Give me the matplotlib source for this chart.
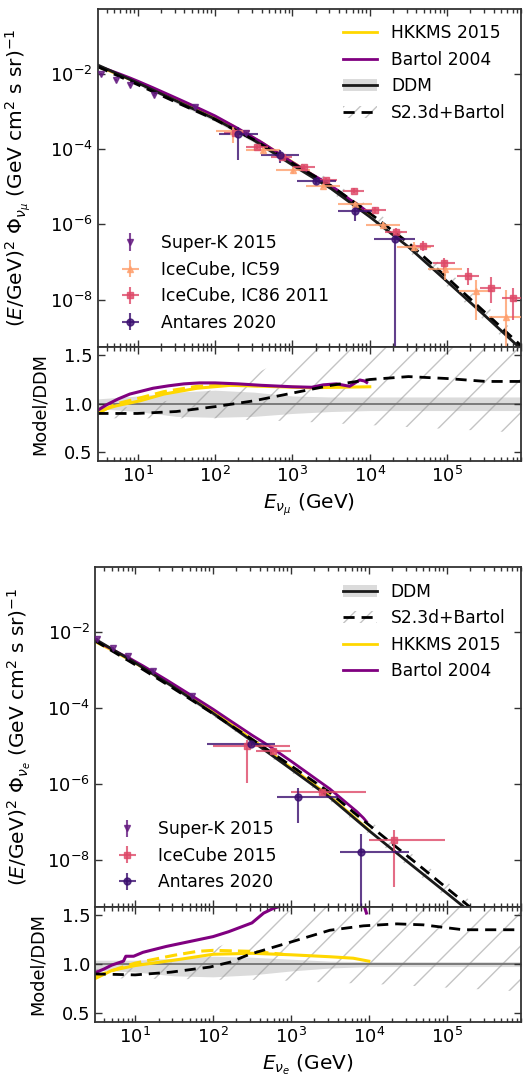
import numpy as np
import matplotlib
matplotlib.use('Agg')
import matplotlib.pyplot as plt
from matplotlib.patches import Patch
from matplotlib.lines import Line2D
from matplotlib import ticker

plt.rcParams['font.family'] = ['DejaVu Sans']
plt.rcParams['mathtext.fontset'] = 'dejavusans'
plt.rcParams['hatch.linewidth'] = 1.0

# ================= DATA : nu_mu (top) =================
# DDM reference flux, log10(E/GeV) and log10(E^2 Phi)
mu_logE = [0.48, 1.0, 1.5, 2.0, 2.5, 3.0, 3.5, 4.0, 4.5, 5.0, 5.5, 6.0]
mu_ddm_logF = [-1.76, -2.24, -2.72, -3.20, -3.76, -4.42, -5.05, -5.80, -6.60, -7.52, -8.45, -9.40]
mu_ddm_lo = [0.95, 0.92, 0.87, 0.86, 0.87, 0.90, 0.92, 0.93, 0.93, 0.93, 0.93, 0.93]
mu_ddm_hi = [1.05, 1.08, 1.12, 1.14, 1.12, 1.08, 1.07, 1.07, 1.07, 1.07, 1.07, 1.07]
mu_s23_lo = [0.85, 0.85, 0.85, 0.85, 0.83, 0.82, 0.80, 0.78, 0.76, 0.74, 0.72, 0.70]
mu_s23_hi = [0.95, 0.97, 1.05, 1.15, 1.30, 1.50, 1.70, 1.85, 1.95, 2.00, 2.00, 2.00]

mu_s23_logE = [0.48, 1.0, 1.5, 2.0, 2.5, 3.0, 3.5, 4.0, 4.5, 5.0, 5.5, 6.0]
mu_s23_ratio = [0.90, 0.90, 0.92, 0.97, 1.03, 1.11, 1.19, 1.25, 1.28, 1.26, 1.23, 1.23]

mu_hkkms_logE = [0.48, 0.6, 0.73, 1.03, 1.34, 1.77, 2.2, 2.63, 3.23, 3.6, 4.0]
mu_hkkms_ratio = [0.90, 0.95, 0.98, 1.03, 1.10, 1.16, 1.19, 1.18, 1.165, 1.17, 1.175]
mu_hkkms2_logE = [0.55, 0.73, 1.03, 1.34, 1.77, 2.2, 2.6]
mu_hkkms2_ratio = [0.93, 1.00, 1.06, 1.125, 1.18, 1.195, 1.185]

mu_bartol_logE = [0.48, 0.6, 0.75, 0.9, 1.0, 1.2, 1.4, 1.6, 1.8, 2.0, 2.3, 2.6, 3.0,
                  3.25, 3.4, 3.57, 3.74, 3.8, 3.87, 3.93, 3.96]
mu_bartol_ratio = [0.93, 0.99, 1.05, 1.10, 1.12, 1.16, 1.185, 1.205, 1.215, 1.215, 1.205,
                   1.19, 1.175, 1.17, 1.195, 1.205, 1.18, 1.21, 1.245, 1.235, 1.22]

# measurements (log10 E, log10 E^2Phi, errors in dex)
sk_mu_logE = [0.527, 0.72, 0.905, 1.21, 1.74, 2.40]
sk_mu_logF = [-2.00, -2.16, -2.29, -2.56, -2.89, -3.58]
sk_mu_yerr = [0.03, 0.03, 0.03, 0.03, 0.04, 0.06]

ic59_logE = [2.235, 2.62, 3.01, 3.40, 3.81, 4.17, 4.57, 4.97, 5.37, 5.76]
ic59_logF = [-3.53, -4.02, -4.55, -4.98, -5.46, -6.02, -6.59, -7.19, -7.77, -8.45]
ic59_xerr = [0.22] * 10
ic59_ylo = [0.30, 0.08, 0.10, 0.06, 0.06, 0.08, 0.13, 0.28, 0.77, 1.50]
ic59_yhi = [0.13, 0.08, 0.08, 0.06, 0.06, 0.08, 0.13, 0.25, 0.29, 0.71]

ic86_logE = [2.26, 2.54, 2.86, 3.15, 3.44, 3.79, 4.07, 4.34, 4.69, 4.96, 5.27, 5.56, 5.85]
ic86_logF = [-3.58, -3.94, -4.21, -4.48, -4.82, -5.10, -5.63, -6.19, -6.57, -7.04, -7.37, -7.70, -7.97]
ic86_xerr = [0.14] * 13
ic86_ylo = [0.05, 0.05, 0.05, 0.05, 0.06, 0.06, 0.08, 0.12, 0.15, 0.20, 0.25, 0.40, 0.57]
ic86_yhi = [0.05, 0.05, 0.05, 0.05, 0.06, 0.06, 0.08, 0.10, 0.12, 0.15, 0.20, 0.30, 0.27]

ant_mu_logE = [2.30, 2.84, 3.31, 3.81, 4.32]
ant_mu_logF = [-3.60, -4.15, -4.85, -5.65, -6.40]
ant_mu_xerr = [0.25, 0.25, 0.25, 0.22, 0.26]
ant_mu_ylo = [0.69, 0.22, 0.08, 0.25, 3.00]
ant_mu_yhi = [0.20, 0.13, 0.06, 0.15, 0.05]

# ================= DATA : nu_e (bottom) =================
e_logE = [0.48, 1.0, 1.5, 2.0, 2.5, 3.0, 3.5, 4.0, 4.5, 5.0, 5.5, 6.0]
e_ddm_logF = [-2.17, -2.80, -3.45, -4.13, -4.86, -5.60, -6.35, -7.22, -8.05, -8.87, -9.70, -10.55]
e_ddm_lo = [0.94, 0.92, 0.88, 0.87, 0.89, 0.93, 0.96, 0.975, 0.975, 0.975, 0.975, 0.975]
e_ddm_hi = [1.04, 1.04, 1.06, 1.08, 1.07, 1.05, 1.03, 1.025, 1.025, 1.025, 1.025, 1.025]
e_s23_lo = [0.86, 0.85, 0.85, 0.84, 0.84, 0.83, 0.81, 0.80, 0.78, 0.76, 0.74, 0.72]
e_s23_hi = [0.95, 0.96, 1.02, 1.15, 1.33, 1.55, 1.75, 1.90, 2.00, 2.00, 2.00, 2.00]

e_s23_logE = [0.48, 1.0, 1.46, 1.96, 2.22, 2.47, 3.0, 3.5, 3.93, 4.36, 4.7, 5.21, 6.0]
e_s23_ratio = [0.90, 0.89, 0.918, 0.97, 1.02, 1.10, 1.225, 1.345, 1.39, 1.41, 1.40, 1.35, 1.35]

e_hkkms_logE = [0.48, 0.7, 1.0, 1.5, 2.0, 2.5, 3.0, 3.5, 3.8, 4.0]
e_hkkms_ratio = [0.85, 0.935, 0.985, 1.04, 1.10, 1.11, 1.095, 1.075, 1.06, 1.03]
e_hkkms2_logE = [0.48, 0.8, 1.0, 1.5, 1.8, 2.0, 2.5, 2.9]
e_hkkms2_ratio = [0.87, 0.96, 1.01, 1.09, 1.13, 1.14, 1.13, 1.10]

e_bartol_logE = [0.48, 0.6, 0.7, 0.85, 0.88, 0.98, 1.1, 1.4, 1.7, 2.0, 2.2, 2.5, 2.65,
                 2.78, 3.0, 3.5, 3.85, 3.93, 3.97]
e_bartol_ratio = [0.91, 0.95, 0.99, 1.03, 1.08, 1.08, 1.12, 1.18, 1.23, 1.28, 1.33, 1.42,
                  1.52, 1.57, 1.62, 1.68, 1.70, 1.62, 1.52]

sk_e_logE = [0.508, 0.714, 0.914, 1.227, 1.735]
sk_e_logF = [-2.18, -2.42, -2.63, -3.01, -3.68]
sk_e_yerr = [0.03, 0.03, 0.03, 0.04, 0.05]

ic15_logE = [2.44, 2.77, 3.40, 4.32]
ic15_logF = [-4.99, -5.12, -6.21, -7.48]
ic15_xlo = [0.44, 0.22, 0.40, 0.32]
ic15_xhi = [0.55, 0.23, 0.57, 0.66]
ic15_ylo = [0.99, 0.06, 0.08, 1.23]
ic15_yhi = [0.15, 0.06, 0.08, 0.28]

ant_e_logE = [2.49, 3.09, 3.90]
ant_e_logF = [-4.93, -6.34, -7.79]
ant_e_xlo = [0.57, 0.27, 0.27]
ant_e_xhi = [0.31, 0.51, 0.61]
ant_e_ylo = [0.06, 0.68, 3.00]
ant_e_yhi = [0.06, 0.25, 0.49]

# ================= STYLE =================
C_SK = '#641a80'
C_IC59 = '#fe9f6d'
C_IC86 = '#de4968'
C_ANT = '#3b0f70'
C_HK = '#ffd700'
C_BA = '#800080'
C_DDM = '#1a1a1a'
C_HATCH = '#c4c4c4'
FS_TICK = 13
FS_LAB = 14.5
FS_LEG = 12.3


def pts(logE, logF, lo=None, hi=None, xlo=None, xhi=None):
    E = 10 ** np.asarray(logE, float)
    F = 10 ** np.asarray(logF, float)
    yerr = None
    xerr = None
    if lo is not None:
        yerr = [F - F * 10 ** (-np.asarray(lo, float)), F * 10 ** np.asarray(hi, float) - F]
    if xlo is not None:
        xerr = [E - E * 10 ** (-np.asarray(xlo, float)), E * 10 ** np.asarray(xhi, float) - E]
    return E, F, xerr, yerr


def ebar(ax, logE, logF, ylo, yhi, xlo, xhi, color, marker, label, ms=5):
    E, F, xerr, yerr = pts(logE, logF, ylo, yhi, xlo, xhi)
    return ax.errorbar(E, F, xerr=xerr, yerr=yerr, fmt=marker, color=color, ms=ms,
                       elinewidth=1.5, capsize=0, alpha=0.8, label=label, zorder=4)


def model_flux(logE_m, ratio, logE_d, logF_d):
    base = 10 ** np.interp(logE_m, logE_d, logF_d)
    return 10 ** np.asarray(logE_m, float), base * np.asarray(ratio, float)


def style(ax, main):
    ax.set_xscale('log')
    ax.tick_params(which='both', direction='in', top=True, right=True,
                   labelsize=FS_TICK, width=1.0, color='#333333')
    ax.tick_params(which='major', length=5)
    ax.tick_params(which='minor', length=3)
    for s in ax.spines.values():
        s.set_linewidth(1.3)
        s.set_color('#333333')
    ax.xaxis.set_major_locator(ticker.LogLocator(base=10, numticks=12))
    ax.xaxis.set_minor_locator(ticker.LogLocator(base=10, subs=np.arange(2, 10), numticks=12))
    ax.set_xlim(3.05, 9e5)
    if main:
        ax.set_yscale('log')
        ax.set_yticks([1e-8, 1e-6, 1e-4, 1e-2])
        ax.yaxis.set_minor_locator(ticker.NullLocator())
        ax.tick_params(labelbottom=False)
    else:
        ax.set_ylim(0.41, 1.585)
        ax.set_yticks([0.5, 1.0, 1.5])
        ax.yaxis.set_major_formatter(ticker.FormatStrFormatter('%.1f'))
        ax.yaxis.set_minor_locator(ticker.NullLocator())


def panel(axm, axr, logE, ddm_logF, ddm_lo, ddm_hi, s_lo, s_hi,
          s23E, s23R, hkE, hkR, hk2E, hk2R, baE, baR):
    E = 10 ** np.asarray(logE, float)
    ddm = 10 ** np.asarray(ddm_logF, float)
    # main panel bands
    axm.fill_between(E, ddm * np.asarray(s_lo), ddm * np.asarray(s_hi), facecolor='none',
                     edgecolor=C_HATCH, hatch='/', linewidth=0, zorder=1)
    axm.fill_between(E, ddm * np.asarray(ddm_lo), ddm * np.asarray(ddm_hi), color='0.6',
                     alpha=0.35, linewidth=0, zorder=1)
    x, y = model_flux(hkE, hkR, logE, ddm_logF)
    axm.plot(x, y, color=C_HK, lw=2, zorder=2)
    x, y = model_flux(baE, baR, logE, ddm_logF)
    axm.plot(x, y, color=C_BA, lw=2, zorder=2)
    axm.plot(E, ddm, color=C_DDM, lw=2, zorder=2)
    x, y = model_flux(s23E, s23R, logE, ddm_logF)
    axm.plot(x, y, color='k', lw=2, ls=(0, (4, 2.5)), zorder=2)
    # ratio panel
    axr.fill_between(E, s_lo, s_hi, facecolor='none', edgecolor=C_HATCH, hatch='/',
                     linewidth=0, zorder=1)
    axr.fill_between(E, ddm_lo, ddm_hi, color='0.6', alpha=0.35, linewidth=0, zorder=1)
    axr.axhline(1.0, color='0.45', lw=1.3, zorder=1.5)
    axr.plot(10 ** np.asarray(hk2E), hk2R, color=C_HK, lw=2.2, ls=(0, (4, 2)), zorder=2)
    axr.plot(10 ** np.asarray(hkE), hkR, color=C_HK, lw=2.2, zorder=2)
    axr.plot(10 ** np.asarray(baE), baR, color=C_BA, lw=2.2, zorder=2)
    axr.plot(10 ** np.asarray(s23E), s23R, color='k', lw=2, ls=(0, (4, 2.5)), zorder=2)


h_hk = Line2D([], [], color=C_HK, lw=2)
h_ba = Line2D([], [], color=C_BA, lw=2)
h_ddm = (Patch(facecolor='0.6', alpha=0.35, linewidth=0), Line2D([], [], color=C_DDM, lw=2))
h_s23 = (Patch(facecolor='none', edgecolor=C_HATCH, hatch='//', linewidth=0),
         Line2D([], [], color='k', lw=2, ls=(0, (4, 2.5))))

fig = plt.figure(figsize=(5.23, 10.76), dpi=100)
ax1 = fig.add_axes([0.1868, 0.67751, 0.8094, 0.31413])
ax2 = fig.add_axes([0.1868, 0.57156, 0.8094, 0.10595])
ax3 = fig.add_axes([0.18164, 0.15734, 0.81453, 0.31543])
ax4 = fig.add_axes([0.18164, 0.05019, 0.81453, 0.10716])

# ---------- top (nu_mu) ----------
panel(ax1, ax2, mu_logE, mu_ddm_logF, mu_ddm_lo, mu_ddm_hi, mu_s23_lo, mu_s23_hi,
      mu_s23_logE, mu_s23_ratio, mu_hkkms_logE, mu_hkkms_ratio,
      mu_hkkms2_logE, mu_hkkms2_ratio, mu_bartol_logE, mu_bartol_ratio)
d1 = ebar(ax1, sk_mu_logE, sk_mu_logF, sk_mu_yerr, sk_mu_yerr, None, None, C_SK, 'v', 'Super-K 2015', ms=5)
d2 = ebar(ax1, ic59_logE, ic59_logF, ic59_ylo, ic59_yhi, ic59_xerr, ic59_xerr, C_IC59, '^', 'IceCube, IC59')
d3 = ebar(ax1, ic86_logE, ic86_logF, ic86_ylo, ic86_yhi, ic86_xerr, ic86_xerr, C_IC86, 's', 'IceCube, IC86 2011')
d4 = ebar(ax1, ant_mu_logE, ant_mu_logF, ant_mu_ylo, ant_mu_yhi, ant_mu_xerr, ant_mu_xerr, C_ANT, 'o', 'Antares 2020')
style(ax1, True)
style(ax2, False)
ax1.set_ylim(5.5e-10, 0.53)
leg = ax1.legend([h_hk, h_ba, h_ddm, h_s23], ['HKKMS 2015', 'Bartol 2004', 'DDM', 'S2.3d+Bartol'],
                 loc='upper right', frameon=False, fontsize=FS_LEG)
ax1.add_artist(leg)
ax1.legend(handles=[d1, d2, d3, d4], loc='lower left', frameon=False, fontsize=FS_LEG)
ax1.set_ylabel(r'$(E/\mathrm{GeV})^2\ \Phi_{\nu_\mu}$ (GeV cm$^2$ s sr)$^{-1}$', fontsize=FS_LAB)
ax1.yaxis.set_label_coords(-0.153, 0.5)
ax2.set_ylabel('Model/DDM', fontsize=12.8)
ax2.yaxis.set_label_coords(-0.115, 0.5)
ax2.set_xlabel(r'$E_{\nu_\mu}$ (GeV)', fontsize=FS_LAB)

# ---------- bottom (nu_e) ----------
panel(ax3, ax4, e_logE, e_ddm_logF, e_ddm_lo, e_ddm_hi, e_s23_lo, e_s23_hi,
      e_s23_logE, e_s23_ratio, e_hkkms_logE, e_hkkms_ratio,
      e_hkkms2_logE, e_hkkms2_ratio, e_bartol_logE, e_bartol_ratio)
f1 = ebar(ax3, sk_e_logE, sk_e_logF, sk_e_yerr, sk_e_yerr, None, None, C_SK, 'v', 'Super-K 2015', ms=5)
f2 = ebar(ax3, ic15_logE, ic15_logF, ic15_ylo, ic15_yhi, ic15_xlo, ic15_xhi, C_IC86, 's', 'IceCube 2015')
f3 = ebar(ax3, ant_e_logE, ant_e_logF, ant_e_ylo, ant_e_yhi, ant_e_xlo, ant_e_xhi, C_ANT, 'o', 'Antares 2020')
style(ax3, True)
style(ax4, False)
ax3.set_ylim(5.9e-10, 0.52)
leg2 = ax3.legend([h_ddm, h_s23, h_hk, h_ba], ['DDM', 'S2.3d+Bartol', 'HKKMS 2015', 'Bartol 2004'],
                  loc='upper right', frameon=False, fontsize=FS_LEG)
ax3.add_artist(leg2)
ax3.legend(handles=[f1, f2, f3], loc='lower left', frameon=False, fontsize=FS_LEG)
ax3.set_ylabel(r'$(E/\mathrm{GeV})^2\ \Phi_{\nu_e}$ (GeV cm$^2$ s sr)$^{-1}$', fontsize=FS_LAB)
ax3.yaxis.set_label_coords(-0.1455, 0.5)
ax4.set_ylabel('Model/DDM', fontsize=12.8)
ax4.yaxis.set_label_coords(-0.113, 0.5)
ax4.set_xlabel(r'$E_{\nu_e}$ (GeV)', fontsize=FS_LAB)

fig.savefig('out.png', dpi=100)
